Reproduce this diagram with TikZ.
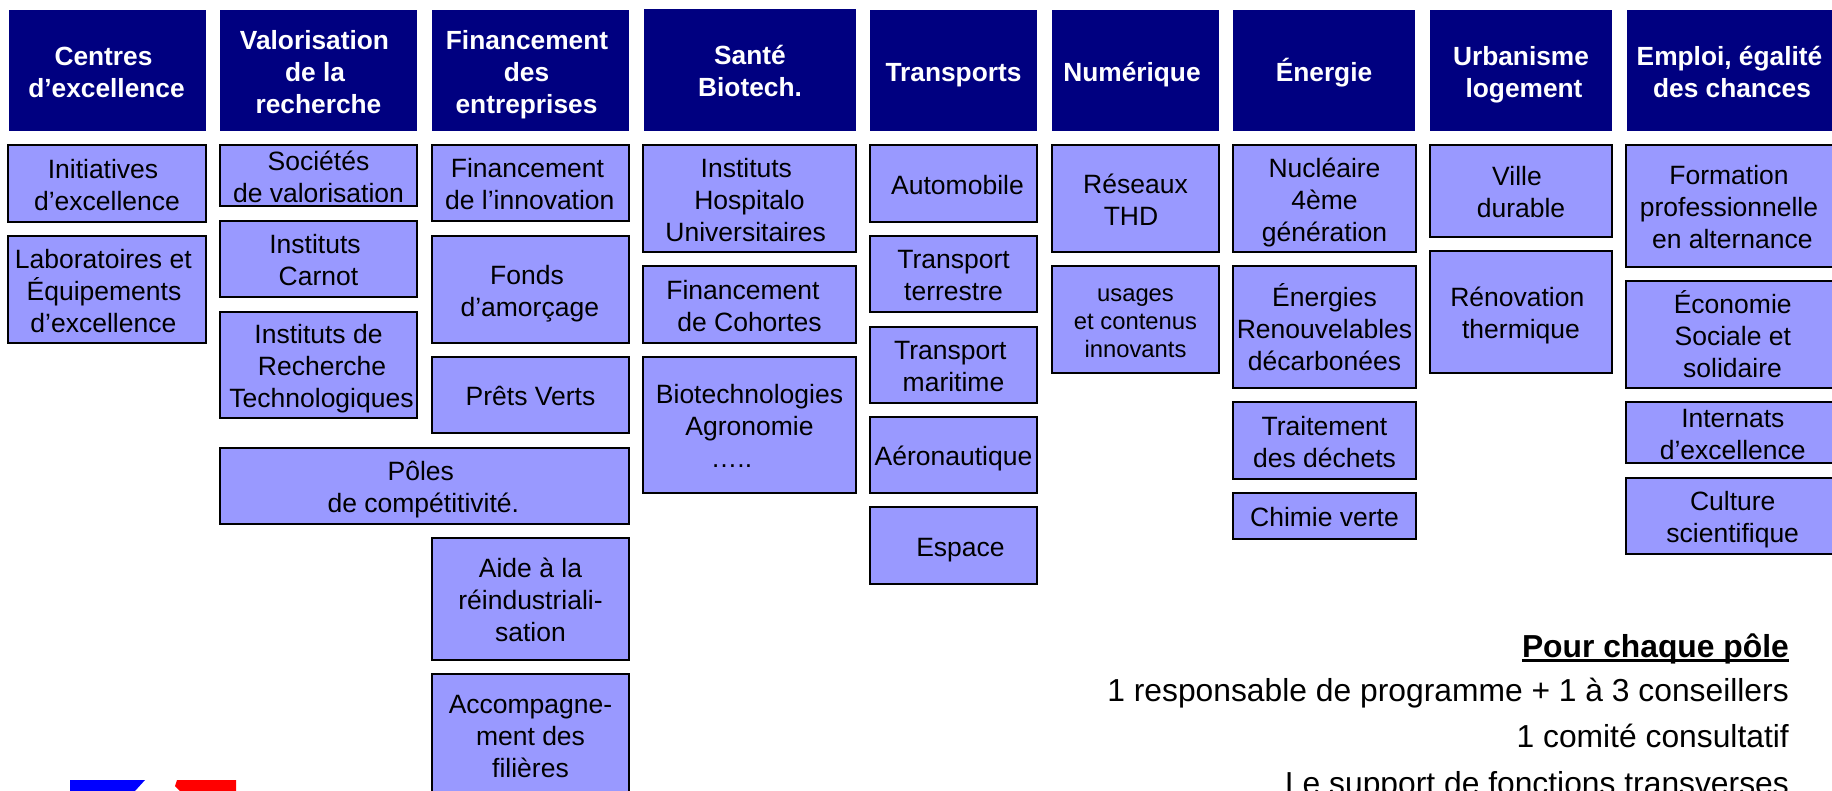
\documentclass[tikz,border=0pt]{standalone}
\usepackage{fontspec}
\setmainfont{Liberation Sans}
\newsavebox{\txtsave}
\newcommand{\txtbox}[1]{\sbox{\txtsave}{\begin{tabular}{@{}c@{}}#1\end{tabular}}\raisebox{\dimexpr(\dp\txtsave-\ht\txtsave)/2-4.5pt\relax}[0pt][0pt]{\usebox{\txtsave}}}
\newcommand{\hb}[6]{\node[headbox,minimum width=#4-#2,minimum height=#5-#3] (#1) at ({(#2+#4)/2},{(#3+#5)/2}) {\txtbox{#6}};}
\newcommand{\bb}[6]{\node[bodybox,minimum width=#4-#2,minimum height=#5-#3] (#1) at ({(#2+#4)/2},{(#3+#5)/2}) {\txtbox{#6}};}
\newcommand{\ls}[2]{\kern#1pt #2\kern-#1pt\relax}
\definecolor{headnavy}{HTML}{000080}
\definecolor{bodyblue}{HTML}{9999FF}
\tikzset{
  headbox/.style={rectangle,fill=headnavy,draw=none,inner sep=0pt,outer sep=0pt,text=white,font=\fontsize{26.3}{32}\selectfont\bfseries},
  bodybox/.style={rectangle,fill=bodyblue,draw=black,line width=1.8pt,inner sep=0pt,outer sep=0pt,text=black,font=\fontsize{26.5}{32}\selectfont},
  sidetext/.style={anchor=base east,inner sep=0pt,font=\fontsize{31.8}{36}\selectfont}
}
\begin{document}
\begin{tikzpicture}[x=1pt,y=-1pt]
\useasboundingbox (0,0) rectangle (1832,791);
% headers
\hb{h1}{9}{10}{206}{131}{\ls{-4}{Centres}\\\ls{-1}{d’excellence}}
\hb{h2}{220}{10}{417}{131}{\ls{-4}{Valorisation}\\\ls{-3.5}{de la}\\recherche}
\hb{h3}{432}{10}{629}{131}{\ls{-3.5}{Financement}\\\ls{-4}{des}\\\ls{-4}{entreprises}}
\hb{h4}{644}{9}{856}{131}{Santé\\Biotech.}
\hb{h5}{870}{10}{1037}{131}{Transports}
\hb{h6}{1052}{10}{1219}{131}{\ls{-3.5}{Numérique}}
\hb{h7}{1233}{10}{1415}{131}{Énergie}
\hb{h8}{1430}{10}{1612}{131}{Urbanisme\\\ls{3}{logement}}
\hb{h9}{1627}{10}{1832}{131}{Emploi, égalité\\\ls{2.5}{des chances}}
% col 1
\bb{a1}{8}{145}{206}{222}{\ls{-4}{Initiatives}\\d’excellence}
\bb{a2}{8}{236}{206}{343}{\ls{-3.7}{Laboratoires et}\\\ls{-3}{Équipements}\\\ls{-3.6}{d’excellence}}
% col 2
\bb{b1}{220}{145}{417}{206}{Sociétés\\de valorisation}
\bb{b2}{220}{221}{417}{297}{\ls{-3.5}{Instituts}\\Carnot}
\bb{b3}{220}{312}{417}{418}{Instituts de\\\ls{3.5}{Recherche}\\\ls{3}{Technologiques}}
% col 3
\bb{c1}{432}{145}{629}{221}{\ls{-3}{Financement}\\\ls{-0.7}{de l’innovation}}
\bb{c2}{432}{236}{629}{343}{\ls{-3.5}{Fonds}\\\ls{-0.7}{d’amorçage}}
\bb{c3}{432}{357}{629}{433}{Prêts Verts}
\bb{c4}{220}{448}{629}{524}{\ls{-3.7}{Pôles}\\\ls{-1.2}{de compétitivité.}}
\bb{c5}{432}{538}{629}{660}{Aide à la\\réindustriali-\\sation}
\bb{c6}{432}{674}{629}{796}{Accompagne-\\ment des\\filières}
% col 4
\bb{d1}{643}{145}{856}{252}{\ls{-3.2}{Instituts}\\Hospitalo\\\ls{-3.8}{Universitaires}}
\bb{d2}{643}{266}{856}{343}{\ls{-6.6}{Financement}\\de Cohortes}
\bb{d3}{643}{357}{856}{493}{Biotechnologies\\Agronomie\\\ls{-18}{…..}}
% col 5
\bb{e1}{870}{145}{1037}{222}{\ls{4}{Automobile}}
\bb{e2}{870}{236}{1037}{312}{Transport\\terrestre}
\bb{e3}{870}{327}{1037}{403}{\ls{-3.2}{Transport}\\maritime}
\bb{e4}{870}{417}{1037}{493}{Aéronautique}
\bb{e5}{870}{507}{1037}{584}{\ls{7}{Espace}}
% col 6
\bb{f1}{1052}{145}{1219}{252}{Réseaux\\\ls{-4.5}{THD}}
\node[bodybox,font=\fontsize{23.8}{28}\selectfont,minimum width=167,minimum height=107] (f2) at (1135.5,319.5) {\txtbox{usages\\et contenus\\innovants}};
% col 7
\bb{g1}{1233}{145}{1416}{252}{Nucléaire\\4ème\\génération}
\bb{g2}{1233}{266}{1416}{388}{Énergies\\Renouvelables\\décarbonées}
\bb{g3}{1233}{402}{1416}{479}{Traitement\\des déchets}
\bb{g4}{1233}{493}{1416}{539}{Chimie verte}
% col 8
\bb{i1}{1430}{145}{1612}{237}{\ls{-4}{Ville}\\durable}
\bb{i2}{1430}{251}{1612}{373}{\ls{-3.7}{Rénovation}\\thermique}
% col 9
\bb{j1}{1626}{145}{1834}{267}{\ls{-1}{Formation}\\\ls{-1}{professionnelle}\\\ls{2.3}{en alternance}}
\bb{j2}{1626}{281}{1834}{388}{\ls{2.7}{Économie}\\\ls{2.8}{Sociale et}\\\ls{2.5}{solidaire}}
\bb{j3}{1626}{402}{1834}{463}{\ls{2.8}{Internats}\\\ls{2.7}{d’excellence}}
\bb{j4}{1626}{478}{1834}{554}{\ls{2.7}{Culture}\\\ls{2.7}{scientifique}}
% side text
\node[sidetext,font=\fontsize{31.8}{36}\selectfont\bfseries] (t0) at (1789,657) {Pour chaque pôle};
\draw[line width=3pt] ([yshift=-3pt]t0.base west) -- ([yshift=-3pt]t0.base east);
\node[sidetext] (t1) at (1789,701) {1 responsable de programme + 1 à 3 conseillers};
\node[sidetext] (t2) at (1789,747) {1 comité consultatif};
\node[sidetext] (t3) at (1789,794) {Le support de fonctions transverses};
% logo
\fill[blue] (70,780) -- (145,780) -- (135,791) -- (70,791) -- cycle;
\fill[red] (177,780) -- (236,780) -- (236,791) -- (180,791) -- (175,786) -- cycle;
\end{tikzpicture}
\end{document}
